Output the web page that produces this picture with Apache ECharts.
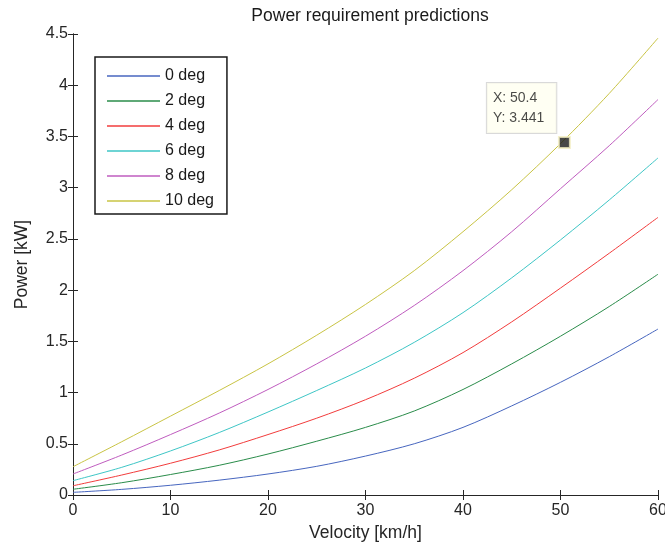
<!DOCTYPE html>
<html><head><meta charset="utf-8">
<script src="https://cdn.jsdelivr.net/npm/echarts@6/dist/echarts.min.js"></script>
<style>html,body{margin:0;padding:0;background:#fff;overflow:hidden}#c{width:665px;height:544px}</style>
</head><body><div id="c"></div>
<script>
const velocity = [0, 5, 10, 15, 20, 25, 30, 35, 40, 45, 50, 55, 60];
const deg0  = [0.026, 0.055, 0.095, 0.145, 0.205, 0.28, 0.38, 0.50, 0.66, 0.87, 1.10, 1.35, 1.62];
const deg2  = [0.056, 0.12, 0.20, 0.29, 0.40, 0.525, 0.66, 0.82, 1.03, 1.28, 1.55, 1.84, 2.155];
const deg4  = [0.09, 0.195, 0.31, 0.44, 0.59, 0.75, 0.93, 1.14, 1.39, 1.69, 2.02, 2.36, 2.71];
const deg6  = [0.14, 0.27, 0.43, 0.61, 0.81, 1.02, 1.24, 1.49, 1.78, 2.12, 2.49, 2.88, 3.29];
const deg8  = [0.205, 0.39, 0.59, 0.80, 1.03, 1.28, 1.55, 1.85, 2.19, 2.57, 2.99, 3.41, 3.86];
const deg10 = [0.276, 0.52, 0.77, 1.02, 1.28, 1.56, 1.86, 2.19, 2.57, 2.98, 3.43, 3.92, 4.46];
const seriesNames = ['0 deg', '2 deg', '4 deg', '6 deg', '8 deg', '10 deg'];
const seriesValues = [deg0, deg2, deg4, deg6, deg8, deg10];
const colors = ['#4766bf', '#2a8c4a', '#f23c3c', '#3ec6c6', '#bf5cbf', '#c9c444'];
const dataTip = [50.4, 3.441];

const FONT = '"Liberation Sans", Arial, sans-serif';
const axisColor = '#262626';

const series = seriesNames.map((n, i) => ({
  name: n, type: 'line', symbol: 'none', showSymbol: false, smooth: 0.3,
  lineStyle: { width: 1, color: colors[i] }, itemStyle: { color: colors[i] },
  data: velocity.map((v, j) => [v, seriesValues[i][j]]),
  z: 3
}));
series.push({
  type: 'scatter', name: 'tip', data: [dataTip], symbol: 'rect', symbolSize: 11,
  itemStyle: { color: '#1a1a1a', borderColor: '#f3eec0', borderWidth: 2 },
  label: {
    show: true, position: [-71, -3], align: 'left', verticalAlign: 'bottom',
    formatter: () => 'X: ' + dataTip[0] + '\nY: ' + dataTip[1],
    fontFamily: FONT, fontSize: 14, color: '#1a1a1a', lineHeight: 20,
    backgroundColor: '#fffff0', borderColor: '#cfcfcf', borderWidth: 1,
    padding: [5, 12, 5, 6]
  },
  z: 5
});

const chart = echarts.init(document.getElementById('c'), null, { renderer: 'canvas' });
chart.setOption({
  animation: false,
  backgroundColor: '#ffffff',
  title: {
    text: 'Power requirement predictions', left: 365, top: 2, textAlign: 'center',
    textStyle: { fontFamily: FONT, fontSize: 17.5, fontWeight: 'normal', color: '#1a1a1a' }
  },
  grid: { left: 73, right: 7, top: 34, bottom: 49, containLabel: false, outerBoundsMode: 'none' },
  legend: {
    data: seriesNames, orient: 'vertical', left: 95, top: 57,
    icon: 'rect', itemWidth: 53, itemHeight: 1.5, itemGap: 9,
    borderColor: '#1a1a1a', borderWidth: 1.5, backgroundColor: '#fff',
    padding: [11, 13, 5, 12],
    textStyle: { fontFamily: FONT, fontSize: 16, color: '#1a1a1a' }
  },
  xAxis: [{
    type: 'value', min: 0, max: 60, interval: 10,
    name: 'Velocity [km/h]', nameLocation: 'middle', nameGap: 27,
    nameTextStyle: { fontFamily: FONT, fontSize: 17.5, color: '#262626' },
    axisLine: { show: true, onZero: false, lineStyle: { color: axisColor, width: 1 } },
    axisTick: { show: true, inside: true, length: 5, lineStyle: { color: axisColor } },
    axisLabel: { fontFamily: FONT, fontSize: 16, color: '#262626', margin: 8 },
    splitLine: { show: false }
  }, {
    type: 'value', min: 0, max: 60, interval: 10, position: 'top',
    axisLine: { show: true, lineStyle: { color: axisColor, width: 1 } },
    axisTick: { show: true, inside: true, length: 5, lineStyle: { color: axisColor } },
    axisLabel: { show: false }, splitLine: { show: false }
  }],
  yAxis: [{
    type: 'value', min: 0, max: 4.5, interval: 0.5,
    name: 'Power [kW]', nameLocation: 'middle', nameGap: 42, nameRotate: 90,
    nameTextStyle: { fontFamily: FONT, fontSize: 17.5, color: '#262626' },
    axisLine: { show: true, onZero: false, lineStyle: { color: axisColor, width: 1 } },
    axisTick: { show: true, inside: true, length: 5, lineStyle: { color: axisColor } },
    axisLabel: { fontFamily: FONT, fontSize: 16, color: '#262626', margin: 5 },
    splitLine: { show: false }
  }, {
    type: 'value', min: 0, max: 4.5, interval: 0.5, position: 'right',
    axisLine: { show: true, lineStyle: { color: axisColor, width: 1 } },
    axisTick: { show: true, inside: true, length: 5, lineStyle: { color: axisColor } },
    axisLabel: { show: false }, splitLine: { show: false }
  }],
  series: series
});
</script></body></html>
